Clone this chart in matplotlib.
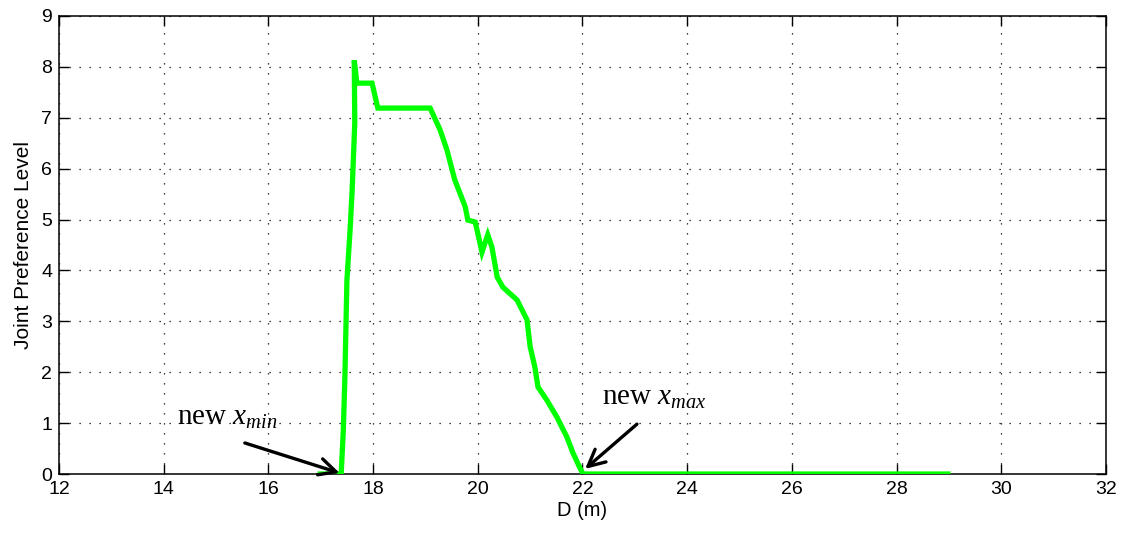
import matplotlib
matplotlib.use("Agg")
import matplotlib.pyplot as plt

# curve (D in m, joint preference level)
d_vals = [16.99, 17.39, 17.43, 17.46, 17.50, 17.56, 17.60, 17.65, 17.64, 17.69,
          17.85, 17.98, 18.09, 19.09, 19.28, 19.41, 19.56, 19.76, 19.81, 19.95,
          20.00, 20.08, 20.19, 20.27, 20.37, 20.48, 20.75, 20.94, 21.00, 21.09,
          21.15, 21.32, 21.51, 21.70, 21.82, 21.95, 22.01, 28.98]
pref_vals = [0.0, 0.0, 0.83, 1.85, 3.81, 4.79, 5.58, 6.90, 8.13, 7.68,
             7.68, 7.68, 7.19, 7.19, 6.76, 6.37, 5.78, 5.25, 4.99, 4.95,
             4.73, 4.36, 4.70, 4.46, 3.87, 3.67, 3.42, 3.03, 2.50, 2.10,
             1.71, 1.45, 1.12, 0.73, 0.41, 0.12, 0.0, 0.0]

x_ticks = list(range(12, 33, 2))
y_ticks = list(range(0, 10))

plt.rcParams['mathtext.fontset'] = 'custom'
plt.rcParams['mathtext.rm'] = 'Liberation Serif'
plt.rcParams['mathtext.it'] = 'Liberation Serif:italic'

fig = plt.figure(figsize=(11.28, 5.4), dpi=100)
ax = fig.add_axes([0.0523, 0.1222, 0.9282, 0.8482])

ax.plot(d_vals, pref_vals, color='#00ff00', lw=3.8, solid_joinstyle='miter', zorder=3)

ax.set_xlim(12, 32)
ax.set_ylim(0, 9)
ax.set_xticks(x_ticks)
ax.set_yticks(y_ticks)
ax.grid(True, color='black', linestyle=(0, (1, 7)), lw=0.9)
ax.tick_params(direction='in', length=7, width=1, top=True, right=True,
               labelsize=14, pad=5)
for tl in ax.get_xticklabels() + ax.get_yticklabels():
    tl.set_family('Liberation Sans')
for s in ax.spines.values():
    s.set_linewidth(1.1)

ax.set_xlabel('D (m)', fontsize=14.5, family='Liberation Sans', labelpad=2)
ax.set_ylabel('Joint Preference Level', fontsize=15, family='Liberation Sans', labelpad=6)

# annotations
serif = 'Liberation Serif'
arrow = dict(arrowstyle='->', lw=2.4, color='black', mutation_scale=30,
             shrinkA=0, shrinkB=0)
ax.annotate('', xy=(17.36, 0.02), xytext=(15.55, 0.61), arrowprops=arrow)
ax.text(14.25, 0.96, r'new $x_{min}$', fontsize=21, family=serif, va='baseline')
ax.annotate('', xy=(22.05, 0.1), xytext=(23.04, 0.98), arrowprops=arrow)
ax.text(22.37, 1.36, r'new $x_{max}$', fontsize=21, family=serif, va='baseline')

fig.savefig('out.png', dpi=100)
